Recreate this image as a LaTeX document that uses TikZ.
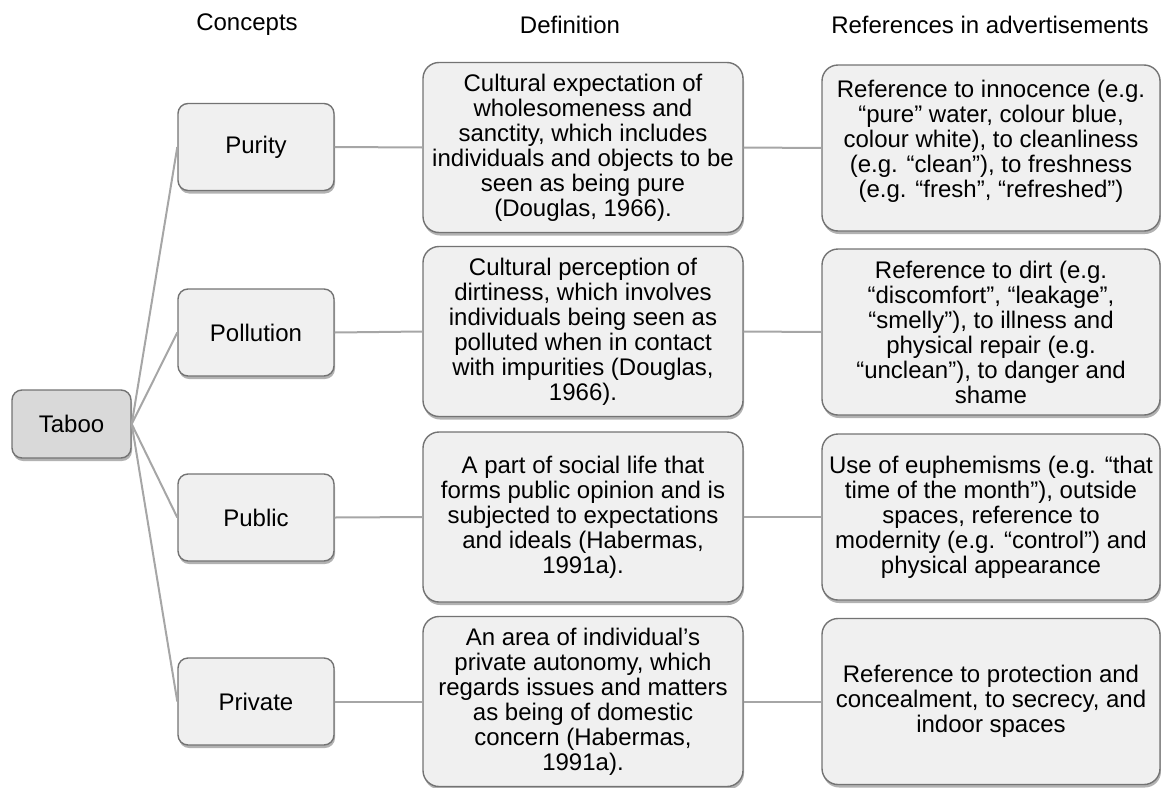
\documentclass[tikz,border=0pt]{standalone}
\usepackage{fontspec}
\setmainfont{Liberation Sans}
\usetikzlibrary{shadows}
\definecolor{boxfill}{HTML}{F0F0F0}
\definecolor{taboofill}{HTML}{D9D9D9}
\definecolor{boxline}{HTML}{737373}
\definecolor{conline}{HTML}{A6A6A6}
\begin{document}
\begin{tikzpicture}[x=1pt,y=-1pt,
  every node/.style={font=\fontsize{24}{25}\selectfont, text=black},
  basebox/.style={draw=boxline, line width=1.4pt, fill=boxfill, align=center, inner sep=2pt,
    drop shadow={shadow xshift=1pt, shadow yshift=-3pt, opacity=0.3, fill=black}},
  taboobox/.style={basebox, fill=taboofill, rounded corners=10pt, minimum width=119pt, minimum height=68pt},
  conceptbox/.style={basebox, rounded corners=10pt, minimum width=156pt, minimum height=87pt},
  defbox/.style={basebox, rounded corners=16pt, minimum width=320pt, minimum height=170pt},
  refbox/.style={basebox, rounded corners=16pt, minimum width=338pt, minimum height=166pt},
  header/.style={},
  conn/.style={draw=conline, line width=2pt}
]
\useasboundingbox (0,0) rectangle (1161,787);

\node[header] (h1) at (247,25) {Concepts};
\node[header] (h2) at (570,25) {Definition};
\node[header] (h3) at (990,25) {References in advertisements};

\node[taboobox] (taboo) at (71.5,424) {Taboo};

\node[conceptbox] (c1) at (256,147) {Purity};
\node[conceptbox] (c2) at (256,332.5) {Pollution};
\node[conceptbox] (c3) at (256,517.5) {Public};
\node[conceptbox] (c4) at (256,701.5) {Private};

\node[defbox] (d1) at (583,147.5) {Cultural expectation of\\wholesomeness and\\sanctity, which includes\\individuals and objects to be\\seen as being pure\\(Douglas, 1966).};
\node[defbox] (d2) at (583,331.5) {Cultural perception of\\dirtiness, which involves\\individuals being seen as\\polluted when in contact\\with impurities (Douglas,\\1966).};
\node[defbox] (d3) at (583,517) {A part of social life that\\forms public opinion and is\\subjected to expectations\\and ideals (Habermas,\\1991a).};
\node[defbox] (d4) at (583,701.5) {An area of individual’s\\private autonomy, which\\regards issues and matters\\as being of domestic\\concern (Habermas,\\1991a).};

\node[refbox] (r1) at (991,148) {Reference to innocence (e.g.\\“pure” water, colour blue,\\colour white), to cleanliness\\(e.g. “clean”), to freshness\\(e.g. “fresh”, “refreshed”)\\[-6pt]\mbox{}};
\node[refbox] (r2) at (991,332) {Reference to dirt (e.g.\\“discomfort”, “leakage”,\\“smelly”), to illness and\\physical repair (e.g.\\“unclean”), to danger and\\shame};
\node[refbox] (r3) at (991,517) {Use of euphemisms (e.g. “that\\time of the month”), outside\\spaces, reference to\\modernity (e.g. “control”) and\\physical appearance};
\node[refbox] (r4) at (991,701.5) {Reference to protection and\\concealment, to secrecy, and\\indoor spaces};

\foreach \i in {1,2,3,4}{
  \draw[conn] (taboo.east) -- (c\i.west);
  \draw[conn] (c\i.east) -- (d\i.west);
  \draw[conn] (d\i.east) -- (r\i.west);
}
\end{tikzpicture}
\end{document}
